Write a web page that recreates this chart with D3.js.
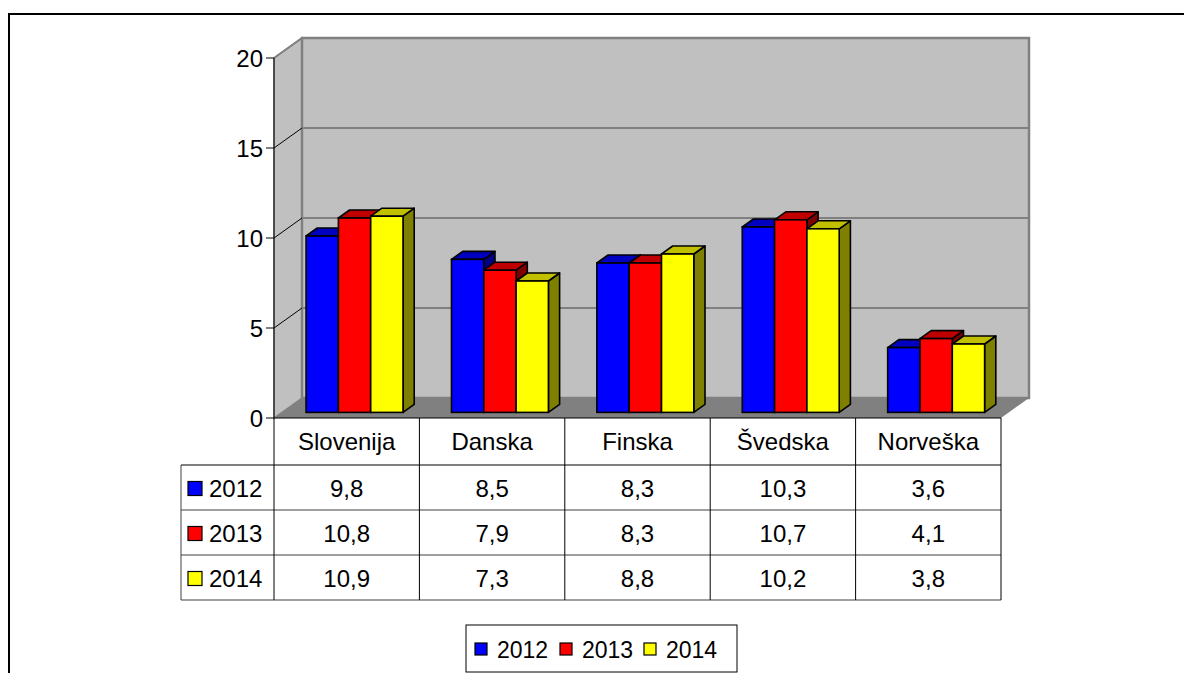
<!DOCTYPE html>
<html>
<head>
<meta charset="utf-8">
<script src="https://cdn.jsdelivr.net/npm/d3@7/dist/d3.min.js"></script>
<style>
  body { margin: 0; background: #fff; }
  text { font-family: "Liberation Sans", Arial, sans-serif; fill: #000; }
</style>
</head>
<body>
<div id="chart"></div>
<script>
// data
var categories = ["Slovenija", "Danska", "Finska", "Švedska", "Norveška"];
var years = ["2012", "2013", "2014"];
var values2012 = [9.8, 8.5, 8.3, 10.3, 3.6];
var values2013 = [10.8, 7.9, 8.3, 10.7, 4.1];
var values2014 = [10.9, 7.3, 8.8, 10.2, 3.8];
var yTicks = [0, 5, 10, 15, 20];

var seriesValues = [values2012, values2013, values2014];
var fronts = ["#0000ff", "#ff0000", "#ffff00"];
var tops = ["#0000c0", "#c00000", "#c0c000"];
var sides = ["#000080", "#800000", "#808000"];

var W = 1184, H = 673;
var svg = d3.select("#chart").append("svg")
  .attr("width", W)
  .attr("height", H);

// outer frame (runs off the page on right / bottom)
svg.append("rect")
  .attr("x", 9).attr("y", 14)
  .attr("width", 1300).attr("height", 800)
  .attr("fill", "none").attr("stroke", "#000").attr("stroke-width", 2);

var plotL = 274, plotR = 1001, plotT = 58, plotB = 418;
var DX = 28, DY = -20;
var FS = 24;

var x = d3.scaleBand().domain(categories).range([plotL, plotR]);
var xs = d3.scaleBand().domain(years).range([0, x.bandwidth()])
  .paddingInner(0).paddingOuter(0.75);
var y = d3.scaleLinear().domain([0, 20]).range([plotB, plotT]);

var floorPts = [[plotL, plotB], [plotL + DX, plotB + DY], [plotR + DX, plotB + DY], [plotR, plotB]].join(" ");

// side wall
svg.append("polygon")
  .attr("points", [[plotL, plotT], [plotL + DX, plotT + DY], [plotL + DX, plotB + DY], [plotL, plotB]].join(" "))
  .attr("fill", "#c0c0c0").attr("stroke", "#808080").attr("stroke-width", 1.5);

// back wall
svg.append("rect")
  .attr("x", plotL + DX).attr("y", plotT + DY)
  .attr("width", plotR - plotL).attr("height", plotB - plotT)
  .attr("fill", "#c0c0c0").attr("stroke", "#808080").attr("stroke-width", 2.5);

// gridlines on back wall and side wall
svg.selectAll(".grid").data(yTicks.filter(function(d) { return d > 0 && d < 20; }))
  .enter().append("line")
  .attr("x1", plotL + DX).attr("x2", plotR + DX)
  .attr("y1", function(d) { return y(d) + DY; })
  .attr("y2", function(d) { return y(d) + DY; })
  .attr("stroke", "#808080").attr("stroke-width", 2);

svg.selectAll(".diag").data(yTicks.filter(function(d) { return d > 0; }))
  .enter().append("line")
  .attr("x1", plotL).attr("x2", plotL + DX)
  .attr("y1", function(d) { return y(d); })
  .attr("y2", function(d) { return y(d) + DY; })
  .attr("stroke", function(d) { return d == 20 ? "#808080" : "#000"; })
  .attr("stroke-width", function(d) { return d == 20 ? 2 : 1; });

// floor
svg.append("polygon")
  .attr("points", floorPts)
  .attr("fill", "#808080");

// bars
var f0 = 0.28, f1 = 0.68;
var fx = DX * f0, fy = DY * f0;
var sx = DX * (f1 - f0), sy = DY * (f1 - f0);

categories.forEach(function(cat, ci) {
  years.forEach(function(yr, si) {
    var v = seriesValues[si][ci];
    var x0 = x(cat) + xs(yr) + fx, x1 = x0 + xs.bandwidth();
    var yt = y(v) + fy, yb = y(0) + fy;
    var g = svg.append("g");
    g.append("polygon")
      .attr("points", [[x1, yt], [x1 + sx, yt + sy], [x1 + sx, yb + sy], [x1, yb]].join(" "))
      .attr("fill", sides[si]).attr("stroke", "#000").attr("stroke-width", 1.6)
      .attr("stroke-linejoin", "round");
    g.append("polygon")
      .attr("points", [[x0, yt], [x0 + sx, yt + sy], [x1 + sx, yt + sy], [x1, yt]].join(" "))
      .attr("fill", tops[si]).attr("stroke", "#000").attr("stroke-width", 1.6)
      .attr("stroke-linejoin", "round");
    g.append("rect")
      .attr("x", x0).attr("y", yt)
      .attr("width", x1 - x0).attr("height", yb - yt)
      .attr("fill", fronts[si]).attr("stroke", "#000").attr("stroke-width", 1.6);
  });
});

// y axis
svg.append("line")
  .attr("x1", plotL).attr("x2", plotL).attr("y1", plotT).attr("y2", plotB)
  .attr("stroke", "#000").attr("stroke-width", 1);
svg.selectAll(".tick").data(yTicks).enter().append("line")
  .attr("x1", plotL - 8).attr("x2", plotL)
  .attr("y1", function(d) { return y(d); })
  .attr("y2", function(d) { return y(d); })
  .attr("stroke", "#000");
svg.selectAll(".ylab").data(yTicks).enter().append("text")
  .attr("x", plotL - 11)
  .attr("y", function(d) { return y(d) + 9; })
  .attr("text-anchor", "end")
  .attr("font-size", FS)
  .text(function(d) { return d; });

// data table
var rowLines = [465, 510, 555, 600];
var labelLeft = 181;

svg.append("line")
  .attr("x1", plotL).attr("x2", plotR).attr("y1", plotB).attr("y2", plotB)
  .attr("stroke", "#000");
svg.selectAll(".row").data(rowLines).enter().append("line")
  .attr("x1", labelLeft).attr("x2", plotR)
  .attr("y1", function(d) { return d; }).attr("y2", function(d) { return d; })
  .attr("stroke", function(d, i) { return i == 0 ? "#000" : "#404040"; });
svg.append("line")
  .attr("x1", labelLeft).attr("x2", labelLeft).attr("y1", 465).attr("y2", 600)
  .attr("stroke", "#404040");
var colEdges = categories.map(function(c) { return x(c); }).concat([plotR]);
svg.selectAll(".col").data(colEdges).enter().append("line")
  .attr("x1", function(d) { return d; }).attr("x2", function(d) { return d; })
  .attr("y1", plotB).attr("y2", 600)
  .attr("stroke", "#000");

svg.selectAll(".cat").data(categories).enter().append("text")
  .attr("x", function(d) { return x(d) + x.bandwidth() / 2; })
  .attr("y", 450)
  .attr("text-anchor", "middle")
  .attr("font-size", FS)
  .text(function(d) { return d; });

years.forEach(function(yr, si) {
  var cy = (rowLines[si] + rowLines[si + 1]) / 2;
  svg.append("rect")
    .attr("x", 188).attr("y", cy - 6)
    .attr("width", 14).attr("height", 14)
    .attr("fill", fronts[si]).attr("stroke", "#000").attr("stroke-width", 1.2);
  svg.append("text")
    .attr("x", 209).attr("y", cy + 9)
    .attr("font-size", FS)
    .text(yr);
  svg.selectAll(".val" + si).data(seriesValues[si]).enter().append("text")
    .attr("x", function(d, i) { return x(categories[i]) + x.bandwidth() / 2; })
    .attr("y", cy + 9)
    .attr("text-anchor", "middle")
    .attr("font-size", FS)
    .text(function(d) { return d.toFixed(1).replace(".", ","); });
});

// legend
var legend = svg.append("g");
legend.append("rect")
  .attr("x", 466).attr("y", 625).attr("width", 271).attr("height", 47)
  .attr("fill", "#fff").attr("stroke", "#000").attr("stroke-width", 1);
var legendX = [475, 560, 644];
years.forEach(function(yr, si) {
  legend.append("rect")
    .attr("x", legendX[si]).attr("y", 643)
    .attr("width", 12).attr("height", 12)
    .attr("fill", fronts[si]).attr("stroke", "#000").attr("stroke-width", 1.2);
  legend.append("text")
    .attr("x", legendX[si] + 22).attr("y", 658)
    .attr("font-size", 23)
    .text(yr);
});
</script>
</body>
</html>
